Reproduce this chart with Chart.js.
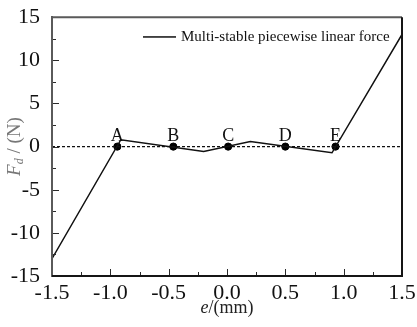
<!DOCTYPE html>
<html>
<head>
<meta charset="utf-8">
<script src="https://cdn.jsdelivr.net/npm/chart.js@4.4.1/dist/chart.umd.min.js"></script>
<style>
  html, body { margin: 0; padding: 0; background: #fff; }
  #wrap { width: 417px; height: 327px; }
</style>
</head>
<body>
<div id="wrap"><canvas id="forceChart"></canvas></div>
<script>
// piecewise linear force curve (x in mm, y in N)
const curveX = [-1.5, -0.91, -0.20, 0.20, 0.90, 1.5];
const curveY = [-13.0, 0.8, -0.57, 0.6, -0.72, 13.0];

// equilibrium points
const pointNames = ['A', 'B', 'C', 'D', 'E'];
const pointX = [-0.94, -0.46, 0.01, 0.50, 0.93];
const pointY = [0, 0, 0, 0, 0];

const xTicks = [-1.5, -1.0, -0.5, 0.0, 0.5, 1.0, 1.5];
const yTicks = [-15, -10, -5, 0, 5, 10, 15];

const serif = '"Liberation Serif", "Times New Roman", serif';

const toPts = (xs, ys) => xs.map((x, i) => ({ x: x, y: ys[i] }));

// draws frame, inward ticks, letters, legend and axis titles
const decorPlugin = {
  id: 'decor',
  afterDraw(chart) {
    const g = chart.ctx;
    const a = chart.chartArea;
    const xs = chart.scales.x;
    const ys = chart.scales.y;
    g.save();

    // ticks pointing inward
    g.strokeStyle = '#2a2a2a';
    g.lineWidth = 1;
    g.beginPath();
    for (let i = 0; i <= 12; i++) {
      const px = Math.round(xs.getPixelForValue(-1.5 + i * 0.25)) + 0.5;
      const len = i % 2 === 0 ? 7 : 4;
      g.moveTo(px, a.bottom);
      g.lineTo(px, a.bottom - len);
    }
    for (let i = 0; i <= 12; i++) {
      const py = Math.round(ys.getPixelForValue(-15 + i * 2.5)) + 0.5;
      const len = i % 2 === 0 ? 7 : 4;
      g.moveTo(a.left, py);
      g.lineTo(a.left + len, py);
    }
    g.stroke();

    // frame: grey top/left, black right/bottom
    g.lineWidth = 2;
    g.strokeStyle = '#5a5a5a';
    g.beginPath();
    g.moveTo(a.left, a.bottom);
    g.lineTo(a.left, a.top);
    g.lineTo(a.right, a.top);
    g.stroke();
    g.strokeStyle = '#151515';
    g.beginPath();
    g.moveTo(a.right, a.top);
    g.lineTo(a.right, a.bottom);
    g.lineTo(a.left, a.bottom);
    g.stroke();

    // point letters
    g.fillStyle = '#111';
    g.font = '18px ' + serif;
    g.textAlign = 'center';
    g.textBaseline = 'alphabetic';
    pointNames.forEach((n, i) => {
      g.fillText(n, xs.getPixelForValue(pointX[i]), ys.getPixelForValue(pointY[i]) - 6);
    });

    // legend
    const ly = a.top + 20;
    g.fillRect(143, ly - 1, 33, 1.5);
    g.font = '15px ' + serif;
    g.textAlign = 'left';
    g.textBaseline = 'middle';
    g.fillText(chart.data.datasets[0].label, 181, ly);

    // y title: F_d / (N)
    g.save();
    g.translate(15, (a.top + a.bottom) / 2);
    g.rotate(-Math.PI / 2);
    g.fillStyle = '#777';
    g.textBaseline = 'middle';
    g.textAlign = 'left';
    const parts = [
      { t: 'F', f: 'italic 19px ' + serif, dy: 0 },
      { t: 'd', f: 'italic 12px ' + serif, dy: 5 },
      { t: ' / (N)', f: '19px ' + serif, dy: 0 }
    ];
    let w = 0;
    parts.forEach(p => { g.font = p.f; w += g.measureText(p.t).width; });
    let cx = -w / 2;
    parts.forEach(p => {
      g.font = p.f;
      g.fillText(p.t, cx, p.dy);
      cx += g.measureText(p.t).width;
    });
    g.restore();

    // x title: e/(mm)
    const xparts = [
      { t: 'e', f: 'italic 18px ' + serif },
      { t: '/(mm)', f: '18px ' + serif }
    ];
    let xw = 0;
    xparts.forEach(p => { g.font = p.f; xw += g.measureText(p.t).width; });
    let xx = (a.left + a.right) / 2 - xw / 2;
    g.fillStyle = '#222';
    g.textBaseline = 'alphabetic';
    xparts.forEach(p => {
      g.font = p.f;
      g.fillText(p.t, xx, 313);
      xx += g.measureText(p.t).width;
    });

    g.restore();
  }
};

new Chart(document.getElementById('forceChart'), {
  type: 'scatter',
  data: {
    datasets: [
      {
        label: 'Multi-stable piecewise linear force',
        data: toPts(curveX, curveY),
        showLine: true,
        borderColor: '#111',
        borderWidth: 1.5,
        pointRadius: 0,
        tension: 0
      },
      {
        label: 'zero',
        data: toPts([-1.5, 1.5], [0, 0]),
        showLine: true,
        borderColor: '#111',
        borderWidth: 1.3,
        borderDash: [3, 2],
        pointRadius: 0
      },
      {
        label: 'points',
        data: toPts(pointX, pointY),
        showLine: false,
        pointRadius: 3.6,
        pointBackgroundColor: '#000',
        pointBorderColor: '#000'
      }
    ]
  },
  options: {
    responsive: true,
    maintainAspectRatio: false,
    animation: false,
    layout: { padding: { left: 0, top: 15, right: 15, bottom: 0 } },
    plugins: {
      legend: { display: false },
      tooltip: { enabled: false }
    },
    scales: {
      x: {
        type: 'linear',
        min: -1.5,
        max: 1.5,
        afterFit: s => { s.height = 51; },
        afterBuildTicks: s => { s.ticks = xTicks.map(v => ({ value: v })); },
        grid: { display: false, tickLength: 4 },
        border: { display: true, color: '#151515', width: 2 },
        ticks: {
          padding: 0,
          color: '#111',
          font: { family: serif, size: 22 },
          maxRotation: 0,
          callback: v => v.toFixed(1)
        }
      },
      y: {
        type: 'linear',
        min: -15,
        max: 15,
        afterFit: s => { s.width = 52; },
        afterBuildTicks: s => { s.ticks = yTicks.map(v => ({ value: v })); },
        grid: { display: false },
        border: { display: true, color: '#5a5a5a', width: 2 },
        ticks: {
          padding: 4,
          color: '#111',
          font: { family: serif, size: 22 }
        }
      }
    }
  },
  plugins: [decorPlugin]
});
</script>
</body>
</html>
